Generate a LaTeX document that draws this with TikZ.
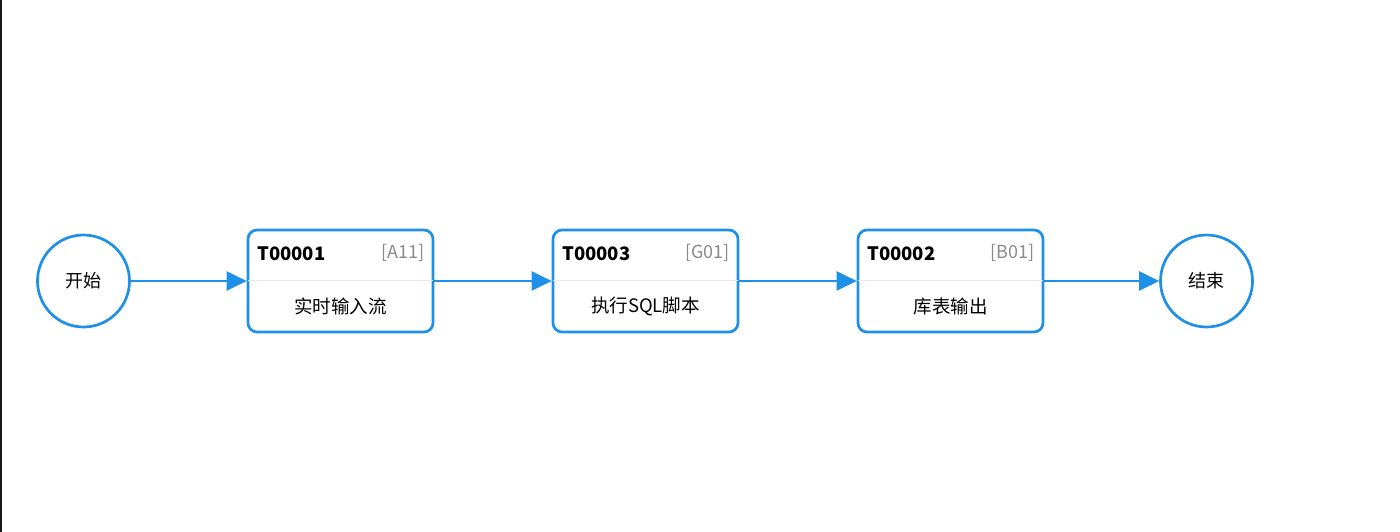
\documentclass[tikz,border=0pt]{standalone}
\usepackage{fontspec}
\setmainfont{Noto Sans CJK SC}
\usetikzlibrary{arrows.meta}

\begin{document}
\begin{tikzpicture}[x=1pt,y=-1pt,
		stepnode/.style={circle,draw=flowblue,line width=2.7pt,minimum size=92pt,inner sep=0pt,font=\fontsize{18}{20}\selectfont},
		taskbox/.style={draw=flowblue,line width=2.7pt,rounded corners=9pt,minimum width=185pt,minimum height=102pt,inner sep=0pt},
		taskid/.style={anchor=west,inner sep=0pt,font=\fontsize{18.5}{20}\selectfont\bfseries},
		taskcode/.style={anchor=east,inner sep=0pt,text=codegray,font=\fontsize{18}{20}\selectfont},
		taskname/.style={inner sep=0pt,font=\fontsize{18.5}{20}\selectfont},
		divider/.style={draw=linegray,line width=1pt},
		flow/.style={draw=flowblue,line width=2.7pt,-{Triangle[length=20pt,width=19pt]}}]
		\definecolor{flowblue}{HTML}{1E90E8}
		\definecolor{codegray}{HTML}{8A8A8A}
		\definecolor{linegray}{HTML}{E8E8E8}
		
		\useasboundingbox (0,0) rectangle (1400,532);
		\draw[line width=2.5pt,black!90] (1,0) -- (1,532);
		
		\node[stepnode] (start) at (83.5,281) {开始};
		\node[taskbox] (t1) at (340.5,281) {};
		\node[taskbox] (t2) at (645.5,281) {};
		\node[taskbox] (t3) at (950.5,281) {};
		\node[stepnode] (finish) at (1206.5,281) {结束};
		
		% dividers
		\draw[divider] ([xshift=1.5pt,yshift=1pt]t1.west) -- ([xshift=-1.5pt,yshift=1pt]t1.east);
		\draw[divider] ([xshift=1.5pt,yshift=1pt]t2.west) -- ([xshift=-1.5pt,yshift=1pt]t2.east);
		\draw[divider] ([xshift=1.5pt,yshift=1pt]t3.west) -- ([xshift=-1.5pt,yshift=1pt]t3.east);
		
		% labels
		\node[taskid] (t1id) at (257,254) {T00001};
		\node[taskcode] (t1code) at (425,253) {[A11]};
		\node[taskname] (t1name) at (340.5,306) {实时输入流};
		
		\node[taskid] (t2id) at (562,254) {T00003};
		\node[taskcode] (t2code) at (730,253) {[G01]};
		\node[taskname] (t2name) at (645.5,306) {执行SQL脚本};
		
		\node[taskid] (t3id) at (867,254) {T00002};
		\node[taskcode] (t3code) at (1035,253) {[B01]};
		\node[taskname] (t3name) at (950.5,306) {库表输出};
		
		\draw[flow] (start) -- (t1);
		\draw[flow] (t1) -- (t2);
		\draw[flow] (t2) -- (t3);
		\draw[flow] (t3) -- (finish);
\end{tikzpicture}
\end{document}
